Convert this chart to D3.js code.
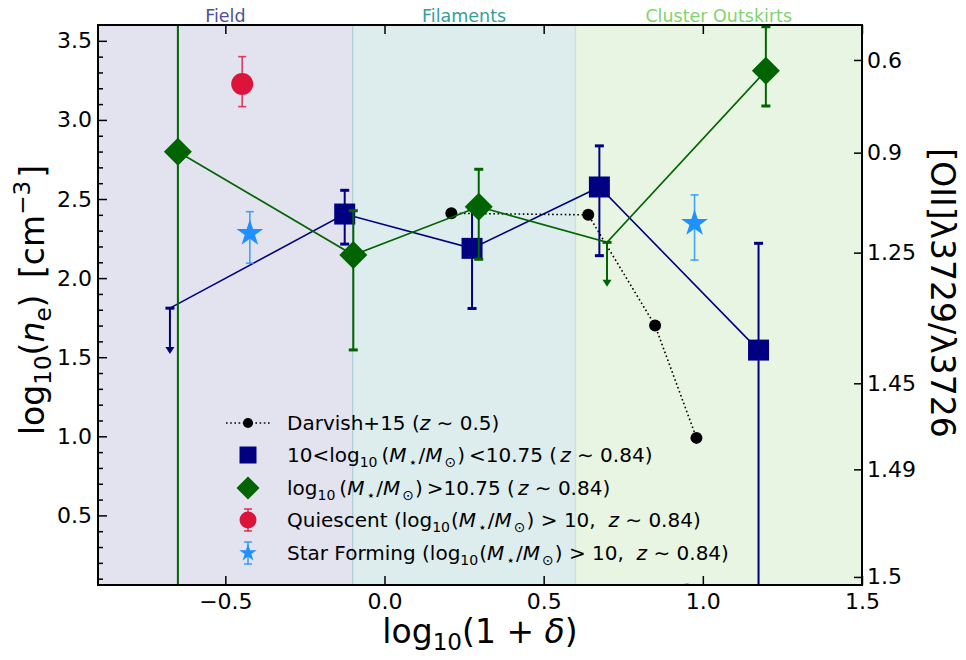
<!DOCTYPE html>
<html>
<head>
<meta charset="utf-8">
<script src="https://cdn.jsdelivr.net/npm/d3@7"></script>
<style>
  body { margin: 0; background: #fff; }
  svg { display: block; }
  text { font-family: "DejaVu Sans", sans-serif; white-space: pre; }
</style>
</head>
<body>
<svg id="chart" width="966" height="660"></svg>
<script>
// Environment bins along log10(1+delta)
const regionNames = ["Field", "Filaments", "Cluster Outskirts"];
const regionEdges = [-0.9, -0.1, 0.6, 1.5];

// Darvish+15 (z~0.5)
const darvishX = [0.21, 0.64, 0.85, 0.98];
const darvishY = [2.41, 2.40, 1.70, 0.99];

// 10 < log M < 10.75 (z~0.84)
const lowX = [-0.674, -0.125, 0.275, 0.675, 1.175];
const lowY = [1.81, 2.405, 2.188, 2.576, 1.545];
const lowErrUp = [0, 0.15, 0.25, 0.26, 0.675];
const lowErrDown = [0.29, 0.19, 0.38, 0.434, 1.6];
const lowIsLimit = [true, false, false, false, false];

// log M > 10.75 (z~0.84)
const highX = [-0.649, -0.098, 0.296, 0.699, 1.198];
const highY = [2.799, 2.146, 2.451, 2.226, 3.311];
const highErrUp = [2.0, 0.28, 0.237, 0, 0.278];
const highErrDown = [3.0, 0.6, 0.332, 0.28, 0.223];
const highIsLimit = [false, false, false, true, false];

// Quiescent (log M > 10)
const quiescentX = [-0.447, 0.95];
const quiescentY = [3.227, 0.0];
const quiescentErrUp = [0.173, 0];
const quiescentErrDown = [0.143, 0];

// Star forming (log M > 10)
const starFormingX = [-0.423, 0.974];
const starFormingY = [2.283, 2.346];
const starFormingErrUp = [0.137, 0.18];
const starFormingErrDown = [0.189, 0.232];

// Axis ticks
const xTicks = [-0.5, 0.0, 0.5, 1.0, 1.5];
const yTicks = [0.5, 1.0, 1.5, 2.0, 2.5, 3.0, 3.5];
const yMinorTicks = [0.1, 0.2, 0.3, 0.4, 0.6, 0.7, 0.8, 0.9, 1.1, 1.2, 1.3, 1.4,
  1.6, 1.7, 1.8, 1.9, 2.1, 2.2, 2.3, 2.4, 2.6, 2.7, 2.8, 2.9, 3.1, 3.2, 3.3, 3.4];
// line ratio labels placed at the matching density on the right axis
const ratioTickLabels = ["0.6", "0.9", "1.25", "1.45", "1.49", "1.5"];
const ratioTickDensity = [3.379, 2.793, 2.161, 1.335, 0.791, 0.111];

// ---------------------------------------------------------------
const margin = { left: 98, right: 104, top: 25, bottom: 75 };
const W = 966, H = 660;
const x0 = margin.left, x1 = W - margin.right, y0 = margin.top, y1 = H - margin.bottom;

const x = d3.scaleLinear().domain([-0.9, 1.5]).range([x0, x1]);
const y = d3.scaleLinear().domain([0.06, 3.6]).range([y1, y0]);

const svg = d3.select("#chart");
const regionFill = ["#e3e3ef", "#ddeded", "#e9f5e3"];
const regionEdge = ["#b3cdd6", "#c6e6c6"];
const regionText = ["#4e4e9c", "#35a098", "#80d46c"];

const C_LOW = "#000080", C_HIGH = "#006400", C_Q = "#dc143c", C_SF = "#1e90ff";

svg.append("defs").append("clipPath").attr("id", "plotClip")
  .append("rect").attr("x", x0).attr("y", y0).attr("width", x1 - x0).attr("height", y1 - y0);

// background bands
const bands = svg.append("g");
regionNames.forEach((name, i) => {
  bands.append("rect")
    .attr("x", x(regionEdges[i])).attr("y", y0)
    .attr("width", x(regionEdges[i + 1]) - x(regionEdges[i]))
    .attr("height", y1 - y0)
    .attr("fill", regionFill[i]);
  svg.append("text")
    .attr("x", x((regionEdges[i] + regionEdges[i + 1]) / 2))
    .attr("y", 22)
    .attr("text-anchor", "middle")
    .attr("font-size", 17.5)
    .attr("fill", regionText[i])
    .text(name);
});
[1, 2].forEach((k, j) => {
  bands.append("line")
    .attr("x1", x(regionEdges[k])).attr("x2", x(regionEdges[k]))
    .attr("y1", y0).attr("y2", y1)
    .attr("stroke", regionEdge[j]).attr("stroke-width", 1.3);
});

const plot = svg.append("g").attr("clip-path", "url(#plotClip)");
const idx = arr => arr.map((_, i) => i);

// symbol helpers
const squareSym = s => d3.symbol(d3.symbolSquare, s)();
const circleSym = s => d3.symbol(d3.symbolCircle, s)();
const starSym = s => d3.symbol(d3.symbolStar, s)();

function errorBars(g, xs, ys, up, down, limits, color, opt) {
  const capW = opt.capW, lw = opt.lw, capLw = opt.capLw, op = opt.opacity || 1;
  xs.forEach((xv, i) => {
    const px = x(xv);
    if (limits && limits[i]) {
      const yTop = y(ys[i]), yEnd = y(ys[i] - down[i]);
      g.append("line").attr("x1", px).attr("x2", px).attr("y1", yTop).attr("y2", yEnd - 4)
        .attr("stroke", color).attr("stroke-width", lw);
      g.append("line").attr("x1", px - capW / 2).attr("x2", px + capW / 2).attr("y1", yTop).attr("y2", yTop)
        .attr("stroke", color).attr("stroke-width", capLw);
      g.append("path")
        .attr("d", d3.line()([[px - 4.5, yEnd - 7], [px + 4.5, yEnd - 7], [px, yEnd]]) + "Z")
        .attr("fill", color);
      return;
    }
    if (!up[i] && !down[i]) return;
    const yt = y(ys[i] + up[i]), yb = y(ys[i] - down[i]);
    g.append("line").attr("x1", px).attr("x2", px).attr("y1", yt).attr("y2", yb)
      .attr("stroke", color).attr("stroke-width", lw).attr("opacity", op);
    [yt, yb].forEach(cy => {
      g.append("line").attr("x1", px - capW / 2).attr("x2", px + capW / 2).attr("y1", cy).attr("y2", cy)
        .attr("stroke", color).attr("stroke-width", capLw).attr("opacity", op);
    });
  });
}

// Darvish+15: dotted line with black dots
plot.append("path")
  .attr("d", d3.line().x(i => x(darvishX[i])).y(i => y(darvishY[i]))(idx(darvishX)))
  .attr("fill", "none").attr("stroke", "#000").attr("stroke-width", 1.6)
  .attr("stroke-dasharray", "1.6,2.6");
plot.selectAll(".dv").data(idx(darvishX)).join("circle")
  .attr("cx", i => x(darvishX[i])).attr("cy", i => y(darvishY[i])).attr("r", 6).attr("fill", "#000");

// low-mass bin
plot.append("path")
  .attr("d", d3.line().x(i => x(lowX[i])).y(i => y(lowY[i]))(idx(lowX)))
  .attr("fill", "none").attr("stroke", C_LOW).attr("stroke-width", 1.6);
errorBars(plot, lowX, lowY, lowErrUp, lowErrDown, lowIsLimit, C_LOW, { capW: 9, lw: 2, capLw: 3 });
plot.selectAll(".lowm").data(idx(lowX).filter(i => !lowIsLimit[i])).join("path")
  .attr("transform", i => `translate(${x(lowX[i])},${y(lowY[i])})`)
  .attr("d", squareSym(441)).attr("fill", C_LOW);

// high-mass bin
plot.append("path")
  .attr("d", d3.line().x(i => x(highX[i])).y(i => y(highY[i]))(idx(highX)))
  .attr("fill", "none").attr("stroke", C_HIGH).attr("stroke-width", 1.6);
errorBars(plot, highX, highY, highErrUp, highErrDown, highIsLimit, C_HIGH, { capW: 9, lw: 2, capLw: 3 });
plot.selectAll(".highm").data(idx(highX).filter(i => !highIsLimit[i])).join("path")
  .attr("transform", i => `translate(${x(highX[i])},${y(highY[i])}) rotate(45)`)
  .attr("d", squareSym(392)).attr("fill", C_HIGH);

// quiescent
errorBars(plot, quiescentX, quiescentY, quiescentErrUp, quiescentErrDown, null, C_Q,
  { capW: 8, lw: 1.6, capLw: 1.6, opacity: 0.8 });
plot.selectAll(".qm").data(idx(quiescentX)).join("path")
  .attr("transform", i => `translate(${x(quiescentX[i])},${y(quiescentY[i])})`)
  .attr("d", circleSym(380)).attr("fill", C_Q);

// star forming
errorBars(plot, starFormingX, starFormingY, starFormingErrUp, starFormingErrDown, null, C_SF,
  { capW: 8, lw: 1.6, capLw: 1.6, opacity: 0.8 });
plot.selectAll(".sfm").data(idx(starFormingX)).join("path")
  .attr("transform", i => `translate(${x(starFormingX[i])},${y(starFormingY[i])})`)
  .attr("d", starSym(225)).attr("fill", C_SF);

// ---------------- axes ----------------
function styleAxis(g) {
  g.select(".domain").remove();
  g.selectAll(".tick line").attr("stroke", "#000").attr("stroke-width", 1.5);
  g.selectAll(".tick text").attr("font-size", 22).attr("fill", "#000")
    .attr("font-family", "DejaVu Sans, sans-serif");
}
const fmt = d3.format(".1f");

svg.append("g").attr("transform", `translate(0,${y1})`)
  .call(d3.axisBottom(x).tickValues(xTicks).tickFormat(fmt).tickSize(-9).tickPadding(8))
  .call(styleAxis);
svg.append("g").attr("transform", `translate(0,${y0})`)
  .call(d3.axisTop(x).tickValues(xTicks).tickFormat("").tickSize(-9))
  .call(styleAxis);
svg.append("g").attr("transform", `translate(${x0},0)`)
  .call(d3.axisLeft(y).tickValues(yTicks).tickFormat(fmt).tickSize(-9).tickPadding(6))
  .call(styleAxis);
svg.append("g").attr("transform", `translate(${x0},0)`)
  .call(d3.axisLeft(y).tickValues(yMinorTicks).tickFormat("").tickSize(-5))
  .call(styleAxis);
svg.append("g").attr("transform", `translate(${x1},0)`)
  .call(d3.axisRight(y).tickValues(ratioTickDensity)
    .tickFormat((d, i) => ratioTickLabels[i]).tickSize(-8).tickPadding(5))
  .call(styleAxis);

// frame
svg.append("rect").attr("x", x0).attr("y", y0).attr("width", x1 - x0).attr("height", y1 - y0)
  .attr("fill", "none").attr("stroke", "#000").attr("stroke-width", 2);

// rich text: parts are [string, kind, dx] with kind "", "i", "sub", "sup"
function rich(sel, parts, size) {
  let shift = 0;
  parts.forEach(([str, kind, dx]) => {
    const ts = sel.append("tspan").text(str);
    let target = 0, fs = size;
    if (kind === "sub") { target = 0.22 * size; fs = 0.7 * size; }
    if (kind === "sup") { target = -0.42 * size; fs = 0.7 * size; }
    if (kind === "i") ts.attr("font-style", "italic");
    if (target - shift !== 0) ts.attr("dy", target - shift);
    if (dx) ts.attr("dx", dx);
    shift = target;
    ts.attr("font-size", fs);
  });
  return sel;
}

// axis titles
rich(svg.append("text").attr("x", (x0 + x1) / 2).attr("y", 643).attr("text-anchor", "middle")
  .attr("font-size", 33),
  [["log", ""], ["10", "sub"], ["(1 + ", ""], ["δ", "i"], [")", ""]], 33);

rich(svg.append("text").attr("transform", "translate(44,300) rotate(-90)").attr("text-anchor", "middle")
  .attr("font-size", 33),
  [["log", ""], ["10", "sub"], ["(", ""], ["n", "i"], ["e", "sub"], [") ", ""], ["[cm", "", 6], ["−3", "sup"], ["]", "", 3]], 33);

svg.append("text").attr("transform", "translate(931,293) rotate(90)").attr("text-anchor", "middle")
  .attr("font-size", 33).text("[OII]λ3729/λ3726");

// ---------------- legend ----------------
const legX = 248, legTextX = 287, legRows = [423, 455, 488, 520, 553];
const legend = svg.append("g");
const massParts = (pad) => [["(", "", pad], ["M", "i"], ["⋆", "sub", 2], ["/", "", 1], ["M", "i"], ["⊙", "sub", 2], [")", "", 1]];
const legendTexts = [
  [["Darvish+15 (", ""], ["z", "i"], [" ∼ 0.5)", ""]],
  [["10<log", ""], ["10", "sub"], ...massParts(4), ["<10.75 (", "", 4], ["z", "i", 3], [" ∼ 0.84)", ""]],
  [["log", ""], ["10", "sub"], ...massParts(4), [">10.75 (", "", 4], ["z", "i", 3], [" ∼ 0.84)", ""]],
  [["Quiescent (log", ""], ["10", "sub"], ...massParts(1), [" > 10,  ", ""], ["z", "i"], [" ∼ 0.84)", ""]],
  [["Star Forming (log", ""], ["10", "sub"], ...massParts(1), [" > 10,  ", ""], ["z", "i"], [" ∼ 0.84)", ""]]
];
legendTexts.forEach((parts, i) => {
  rich(legend.append("text").attr("x", legTextX).attr("y", legRows[i] + 7.3).attr("font-size", 20)
    .attr("fill", "#000"), parts, 20);
});
// legend markers
legend.append("line").attr("x1", legX - 22).attr("x2", legX + 22).attr("y1", legRows[0]).attr("y2", legRows[0])
  .attr("stroke", "#000").attr("stroke-width", 1.6).attr("stroke-dasharray", "1.6,2.6");
legend.append("circle").attr("cx", legX).attr("cy", legRows[0]).attr("r", 5).attr("fill", "#000");
legend.append("path").attr("transform", `translate(${legX},${legRows[1]})`).attr("d", squareSym(289)).attr("fill", C_LOW);
legend.append("path").attr("transform", `translate(${legX},${legRows[2]}) rotate(45)`).attr("d", squareSym(265)).attr("fill", C_HIGH);
[[legRows[3], C_Q, circleSym(227)], [legRows[4], C_SF, starSym(95)]].forEach(([ry, col, sym]) => {
  legend.append("line").attr("x1", legX).attr("x2", legX).attr("y1", ry - 11).attr("y2", ry + 11)
    .attr("stroke", col).attr("stroke-width", 1.6).attr("opacity", 0.8);
  [ry - 11, ry + 11].forEach(cy => legend.append("line").attr("x1", legX - 4).attr("x2", legX + 4)
    .attr("y1", cy).attr("y2", cy).attr("stroke", col).attr("stroke-width", 1.6).attr("opacity", 0.8));
  legend.append("path").attr("transform", `translate(${legX},${ry})`).attr("d", sym).attr("fill", col);
});
</script>
</body>
</html>
